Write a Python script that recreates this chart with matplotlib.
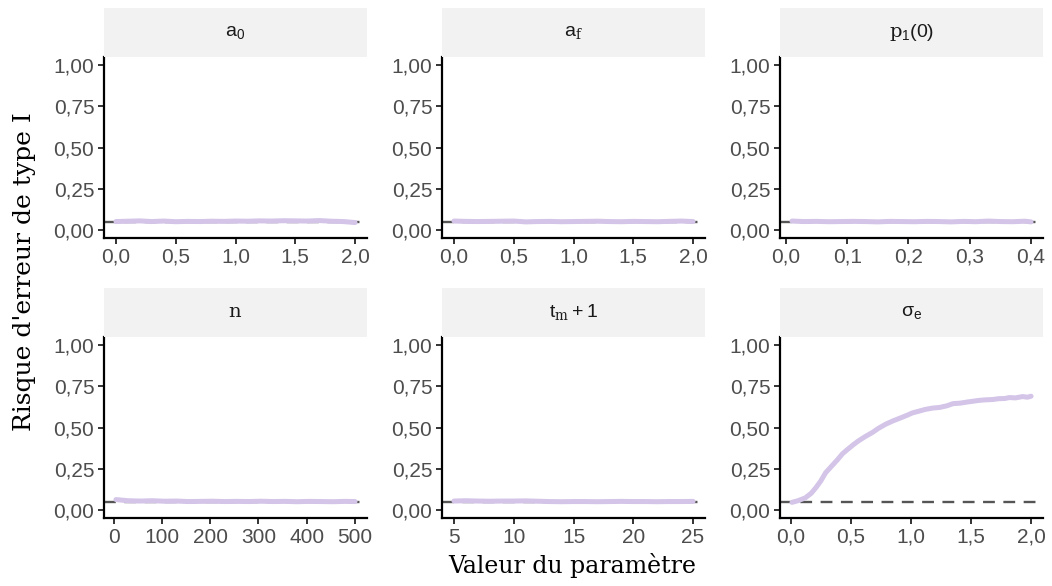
import matplotlib
matplotlib.use("Agg")
import matplotlib.pyplot as plt
from matplotlib.patches import Rectangle

plt.rcParams["font.sans-serif"] = ["Liberation Sans", "DejaVu Sans"]
plt.rcParams["font.serif"] = ["DejaVu Serif"]
plt.rcParams["mathtext.fontset"] = "custom"
plt.rcParams["mathtext.rm"] = "sans"
plt.rcParams["mathtext.it"] = "serif"
plt.rcParams["mathtext.bf"] = "sans:bold"

# ---------------- data ----------------
panel_titles = [r"$\mathrm{a_0}$", r"$\mathrm{a}_{f}$", r"$p_{1}\mathrm{(0)}$",
                r"$n$", r"$\mathrm{t}_{m} + \mathrm{1}$", r"$\mathrm{\sigma_e}$"]

a0_x = [0.0, 0.1, 0.2, 0.3, 0.4, 0.5, 0.6, 0.7, 0.8, 0.9, 1.0, 1.1, 1.2, 1.3, 1.4, 1.5, 1.6, 1.7, 1.8, 1.9, 2.0]
a0_y = [0.050, 0.052, 0.054, 0.050, 0.053, 0.049, 0.051, 0.050, 0.052, 0.051, 0.053, 0.052, 0.054, 0.053, 0.055, 0.054, 0.053, 0.056, 0.052, 0.050, 0.044]

af_x = [0.0, 0.1, 0.2, 0.3, 0.4, 0.5, 0.6, 0.7, 0.8, 0.9, 1.0, 1.1, 1.2, 1.3, 1.4, 1.5, 1.6, 1.7, 1.8, 1.9, 2.0]
af_y = [0.053, 0.051, 0.050, 0.051, 0.052, 0.053, 0.048, 0.050, 0.051, 0.049, 0.050, 0.051, 0.052, 0.050, 0.049, 0.051, 0.050, 0.049, 0.051, 0.053, 0.050]

p1_x = [0.01, 0.03, 0.05, 0.07, 0.09, 0.11, 0.13, 0.15, 0.17, 0.19, 0.21, 0.23, 0.25, 0.27, 0.29, 0.31, 0.33, 0.35, 0.37, 0.39, 0.40]
p1_y = [0.053, 0.050, 0.051, 0.049, 0.050, 0.051, 0.050, 0.048, 0.051, 0.050, 0.049, 0.051, 0.050, 0.048, 0.051, 0.049, 0.053, 0.050, 0.049, 0.052, 0.048]

n_x = [5, 30, 55, 80, 105, 130, 155, 180, 205, 230, 255, 280, 305, 330, 355, 380, 405, 430, 455, 480, 500]
n_y = [0.062, 0.055, 0.053, 0.055, 0.052, 0.053, 0.050, 0.051, 0.052, 0.050, 0.051, 0.050, 0.052, 0.050, 0.051, 0.049, 0.051, 0.050, 0.049, 0.051, 0.050]

tm_x = [5, 6, 7, 8, 9, 10, 11, 12, 13, 14, 15, 16, 17, 18, 19, 20, 21, 22, 23, 24, 25]
tm_y = [0.053, 0.055, 0.053, 0.052, 0.053, 0.053, 0.054, 0.052, 0.050, 0.049, 0.050, 0.050, 0.049, 0.050, 0.051, 0.050, 0.050, 0.049, 0.050, 0.050, 0.051]

sig_x = [0.01, 0.06, 0.12, 0.17, 0.21, 0.25, 0.29, 0.34, 0.39, 0.43, 0.47, 0.52, 0.56, 0.62, 0.68, 0.73, 0.79, 0.85, 0.92, 0.97,
         1.01, 1.07, 1.12, 1.18, 1.24, 1.30, 1.35, 1.41, 1.47, 1.52, 1.57, 1.62, 1.68, 1.73, 1.78, 1.82, 1.87, 1.93, 1.97, 2.00]
sig_y = [0.045, 0.055, 0.072, 0.100, 0.135, 0.175, 0.225, 0.265, 0.305, 0.340, 0.365, 0.395, 0.417, 0.445, 0.470, 0.495, 0.520, 0.540, 0.560, 0.575,
         0.588, 0.600, 0.610, 0.618, 0.622, 0.632, 0.645, 0.648, 0.655, 0.660, 0.665, 0.668, 0.670, 0.675, 0.676, 0.682, 0.680, 0.688, 0.684, 0.690]

xs = [a0_x, af_x, p1_x, n_x, tm_x, sig_x]
ys = [a0_y, af_y, p1_y, n_y, tm_y, sig_y]

xticks = [[0.0, 0.5, 1.0, 1.5, 2.0], [0.0, 0.5, 1.0, 1.5, 2.0], [0.0, 0.1, 0.2, 0.3, 0.4],
          [0, 100, 200, 300, 400, 500], [5, 10, 15, 20, 25], [0.0, 0.5, 1.0, 1.5, 2.0]]
xticklabels = [["0,0", "0,5", "1,0", "1,5", "2,0"], ["0,0", "0,5", "1,0", "1,5", "2,0"],
               ["0,0", "0,1", "0,2", "0,3", "0,4"], ["0", "100", "200", "300", "400", "500"],
               ["5", "10", "15", "20", "25"], ["0,0", "0,5", "1,0", "1,5", "2,0"]]
yticks = [0.0, 0.25, 0.5, 0.75, 1.0]
yticklabels = ["0,00", "0,25", "0,50", "0,75", "1,00"]
alpha_level = 0.05

line_color = "#d3c4e8"
tick_font = "Liberation Sans"
title_font = "DejaVu Serif"

# ---------------- figure ----------------
W, H = 1052, 586
fig = plt.figure(figsize=(W / 100, H / 100), dpi=100)

lefts = [104, 442, 780]
tops = [57, 337]
pw, ph = 263, 181
strip_h = 50

for i in range(6):
    r, c = divmod(i, 3)
    L = lefts[c]
    T = tops[r]
    ax = fig.add_axes([L / W, 1 - (T + ph) / H, pw / W, ph / H])
    x, y = xs[i], ys[i]
    xmin, xmax = min(x), max(x)
    pad = (xmax - xmin) * 0.05
    ax.set_xlim(xmin - pad, xmax + pad)
    ax.set_ylim(-0.05, 1.05)
    ax.axhline(alpha_level, color="#555555", lw=1.7, ls=(0, (5, 3.6)), zorder=2)
    ax.plot(x, y, color=line_color, lw=3.6, solid_capstyle="round", zorder=3)
    for s in ["top", "right"]:
        ax.spines[s].set_visible(False)
    for s in ["left", "bottom"]:
        ax.spines[s].set_linewidth(1.6)
        ax.spines[s].set_color("black")
    ax.set_xticks(xticks[i])
    ax.set_xticklabels(xticklabels[i])
    ax.set_yticks(yticks)
    ax.set_yticklabels(yticklabels)
    ax.tick_params(length=4, width=1.4, color="#333333", labelcolor="#4d4d4d",
                   labelsize=15, pad=3)
    for lab in ax.get_xticklabels() + ax.get_yticklabels():
        lab.set_family(tick_font)
    # strip
    sax = fig.add_axes([L / W, 1 - T / H, pw / W, (strip_h - 1) / H])
    sax.set_xlim(0, 1)
    sax.set_ylim(0, 1)
    sax.axis("off")
    sax.add_patch(Rectangle((0, 0), 1, 1, facecolor="#f2f2f2", edgecolor="none"))
    sax.text(0.5, 0.5, panel_titles[i], ha="center", va="center", fontsize=14,
             color="#1a1a1a", family=tick_font)

fig.text(25 / W, 1 - 272 / H, "Risque d'erreur de type I", rotation=90, ha="center",
         va="center", fontsize=18, family=title_font, color="black")
fig.text(572 / W, 1 - 566 / H, "Valeur du paramètre", ha="center", va="center",
         fontsize=17, family=title_font, color="black")

fig.savefig("out.png", dpi=100)
